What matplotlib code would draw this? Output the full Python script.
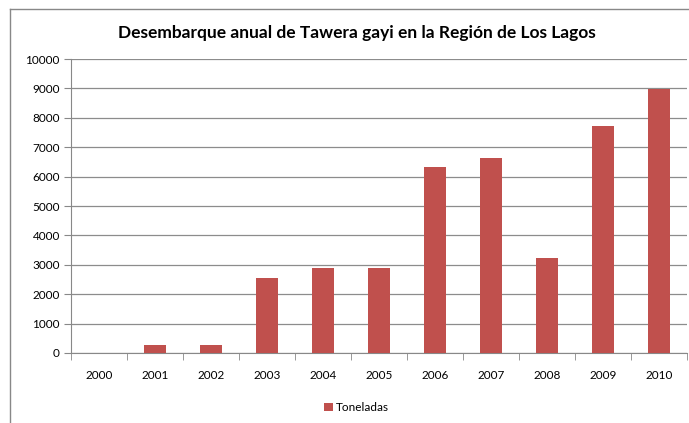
import matplotlib.pyplot as plt
from matplotlib.lines import Line2D
import numpy as np

years = ["2000", "2001", "2002", "2003", "2004", "2005",
         "2006", "2007", "2008", "2009", "2010"]
toneladas = [12, 260, 260, 2550, 2890, 2890, 6320, 6630, 3230, 7720, 8980]

plt.rcParams["font.family"] = ["Lato", "DejaVu Sans"]

fig = plt.figure(figsize=(6.89, 4.23), dpi=100)
ax = fig.add_axes([0.103, 0.1655, 0.894, 0.695])

x = np.arange(len(years))
ax.bar(x, toneladas, width=0.4, color="#C0504D", label="Toneladas", zorder=3)

ax.set_xlim(-0.5, len(years) - 0.5)
ax.set_ylim(0, 10000)
ax.set_yticks(range(0, 10001, 1000))
ax.set_xticks(x)
ax.set_xticklabels(years)
ax.set_xticks(np.arange(-0.5, len(years), 1), minor=True)
ax.tick_params(axis="x", which="major", length=0, pad=12, labelsize=8.5)
ax.tick_params(axis="x", which="minor", length=5, color="#888888")
ax.tick_params(axis="y", length=5, color="#888888", labelsize=8.5, pad=3)

ax.grid(axis="y", color="#8c8c8c", linewidth=0.9, zorder=0)
for side in ["top", "right"]:
    ax.spines[side].set_visible(False)
ax.spines["left"].set_color("#888888")
ax.spines["bottom"].set_color("#888888")

fig.text(0.518, 0.922, "Desembarque anual de Tawera gayi en la Región de Los Lagos",
         ha="center", va="center", fontsize=12.5, fontweight="bold")

ax.legend(loc="center", bbox_to_anchor=(0.464, -0.187), frameon=False,
          fontsize=8.5, handlelength=0.7, handleheight=0.7, handletextpad=0.3)

# outer chart frame (cropped on right and bottom)
fig.add_artist(Line2D([10 / 689, 1], [1 - 9 / 423, 1 - 9 / 423],
                      transform=fig.transFigure, color="#888888", linewidth=1))
fig.add_artist(Line2D([10 / 689, 10 / 689], [0, 1 - 9 / 423],
                      transform=fig.transFigure, color="#888888", linewidth=1))

fig.savefig("out.png", dpi=100)
